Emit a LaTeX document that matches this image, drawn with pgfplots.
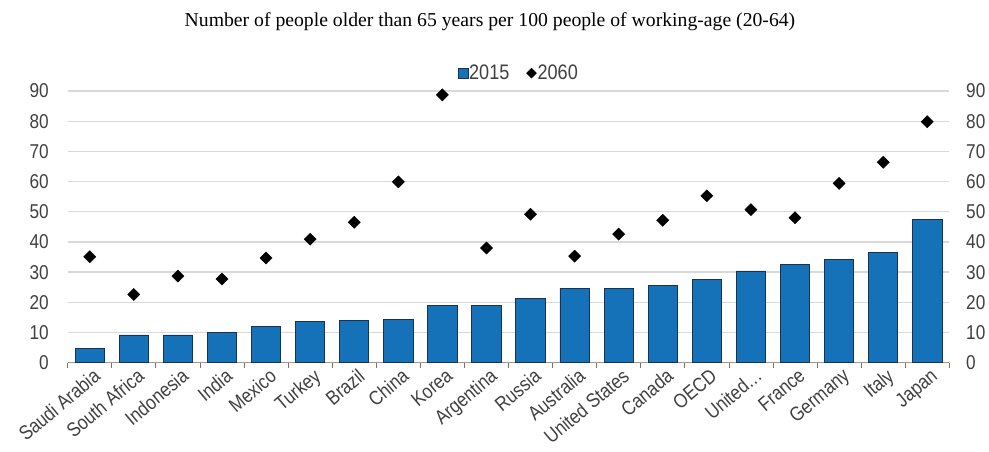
\documentclass[border=0pt]{standalone}
\usepackage{fontspec}
\setmainfont{Liberation Sans}[FakeStretch=0.86]
\newfontfamily\titlefont{Liberation Serif}
\usepackage{pgfplots}
\pgfplotsset{compat=1.18}
\definecolor{barblue}{RGB}{22,114,184}
\definecolor{bardark}{RGB}{25,50,80}
\definecolor{labelgrey}{RGB}{64,64,64}
\definecolor{gridgrey}{RGB}{217,217,217}
\definecolor{tickbrown}{RGB}{150,110,70}
\newcommand\lbl{\fontsize{20}{23}\selectfont}
\newcommand\ukdots{United\kern0.5pt.\kern0.5pt.\kern0.5pt.}
\begin{document}
\begin{tikzpicture}
\useasboundingbox (-67.7pt,-88.3pt) rectangle (921.3pt,362.7pt);
\begin{axis}[
  width=881.6pt, height=271.7pt, scale only axis,
  xmin=-0.5, xmax=19.5, ymin=0, ymax=90,
  axis x line*=bottom, axis y line*=left,
  x axis line style={draw=gray!80, line width=1.2pt},
  y axis line style={draw=none},
  xtick={0,...,19},
  xticklabels={Saudi Arabia,South Africa,Indonesia,India,Mexico,Turkey,Brazil,China,Korea,Argentina,Russia,Australia,United States,Canada,OECD,{\ukdots},France,Germany,Italy,Japan},
  minor xtick={-0.5,0.5,...,19.5},
  major tick length=0pt, minor tick length=5pt, tick align=outside,
  minor tick style={draw=tickbrown, line width=0.8pt},
  ytick={0,10,...,90},
  ymajorgrids, grid style={draw=gridgrey, line width=1.3pt},
  xticklabel style={font=\lbl, text=labelgrey, rotate=40, anchor=north east, inner sep=1pt, yshift=-4pt},
  yticklabel style={font=\lbl, text=labelgrey, inner sep=0pt, anchor=east, xshift=-18.7pt},
  /pgf/number format/assume math mode=true,
  title={Number of people older than 65 years per 100 people of working-age (20-64)},
  title style={at={(0.479,1.232)}, anchor=center, font=\titlefont\fontsize{19.7}{22}\selectfont},
  legend style={at={(0.511,1.066)}, anchor=center, draw=none, fill=none, legend columns=-1, font=\fontsize{21}{24}\selectfont, text=labelgrey,
    nodes={inner sep=1pt},
    /tikz/every odd column/.append style={column sep=0pt},
    /tikz/every even column/.append style={column sep=16pt}},
]
\addplot[ybar, bar width=29.3pt, fill=barblue, draw=bardark, line width=0.8pt,
  legend image code/.code={\draw[fill=barblue, draw=bardark, line width=0.6pt] (0pt,-5pt) rectangle (10pt,5pt);}]
  coordinates {(0,4.7) (1,9.2) (2,9.2) (3,9.9) (4,12.1) (5,13.6) (6,13.9) (7,14.4) (8,19.1) (9,19.1)
  (10,21.3) (11,24.6) (12,24.6) (13,25.7) (14,27.7) (15,30.4) (16,32.5) (17,34.3) (18,36.6) (19,47.5)};
\addlegendentry{2015}
\addplot[only marks, mark=square*, mark size=4.3pt, mark options={rotate=45, fill=black, draw=black},
  legend image code/.code={\draw[fill=black, draw=black, shift={(5pt,0pt)}, rotate=45] (-3.5pt,-3.5pt) rectangle (3.5pt,3.5pt);}]
  coordinates {(0,35.1) (1,22.6) (2,28.7) (3,27.7) (4,34.7) (5,40.9) (6,46.5) (7,59.9) (8,88.7) (9,38.0)
  (10,49.2) (11,35.3) (12,42.6) (13,47.2) (14,55.3) (15,50.7) (16,48.0) (17,59.4) (18,66.4) (19,79.8)};
\addlegendentry{2060}
\end{axis}
\begin{axis}[
  width=881.6pt, height=271.7pt, scale only axis,
  xmin=-0.5, xmax=19.5, ymin=0, ymax=90,
  axis x line=none, axis y line*=right,
  y axis line style={draw=none},
  xtick=\empty, ytick={0,10,...,90}, major tick length=0pt,
  yticklabel style={font=\lbl, text=labelgrey, inner sep=0pt, anchor=west, xshift=16.7pt},
  /pgf/number format/assume math mode=true,
]
\addplot[draw=none] coordinates {(0,0) (19,0)};
\end{axis}
\end{tikzpicture}
\end{document}
